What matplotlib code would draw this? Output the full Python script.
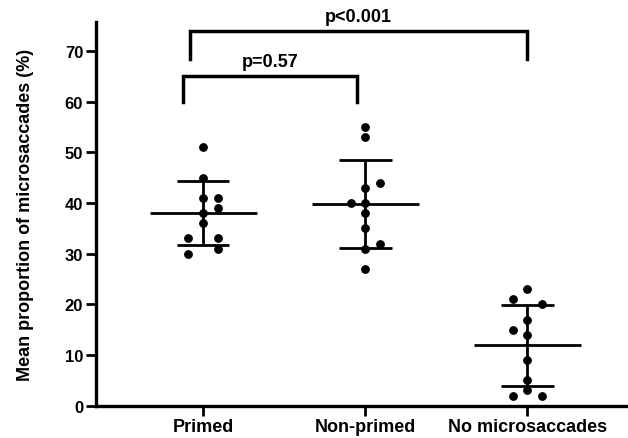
import numpy as np
import matplotlib
matplotlib.use("Agg")
import matplotlib.pyplot as plt

plt.rcParams['font.family'] = ['Liberation Sans', 'DejaVu Sans']

categories = ["Primed", "Non-primed", "No microsaccades"]
primed = [51, 45, 41, 41, 39, 38, 36, 33, 33, 31, 30]
non_primed = [55, 53, 44, 43, 40, 40, 38, 35, 32, 31, 27]
no_micro = [23, 21, 20, 17, 15, 14, 9, 5, 3, 2, 2]
# swarm column (-1 left, 0 centre, 1 right)
primed_side = [0, 0, 0, 1, 1, 0, 0, -1, 1, 1, -1]
non_primed_side = [0, 0, 1, 0, -1, 0, 0, 0, 1, 0, 0]
no_micro_side = [0, -1, 1, 0, -1, 0, 0, 0, 0, -1, 1]
yticks = [0, 10, 20, 30, 40, 50, 60, 70]
ylabel = "Mean proportion of microsaccades (%)"
comparisons = [(0, 2, "p<0.001"), (0, 1, "p=0.57")]

groups = [primed, non_primed, no_micro]
sides = [primed_side, non_primed_side, no_micro_side]

W, H = 628, 439
fig = plt.figure(figsize=(W / 100, H / 100), dpi=100)
ax = fig.add_axes([95.7 / W, 1 - 406.7 / H, 1 - 95.7 / W + 0.01, (406.7 - 23) / H])

STEP = 0.09
for i, (vals, sd) in enumerate(zip(groups, sides)):
    v = np.array(vals, dtype=float)
    m = v.mean()
    s = v.std(ddof=1)
    ax.vlines(i, m - s, m + s, color='black', lw=2.0, zorder=2)
    ax.hlines([m - s, m + s], i - 0.163, i + 0.163, color='black', lw=2.0, zorder=2)
    ax.hlines(m, i - 0.33, i + 0.33, color='black', lw=2.0, zorder=2)
    x = i + STEP * np.array(sd)
    ax.plot(x, v, 'o', color='black', ms=5.3, mec='black', zorder=3, clip_on=False)

ax.set_xlim(-0.662, 2.66)
ax.set_ylim(0, 75.7)
ax.set_yticks(yticks)
ax.set_xticks(range(len(categories)))
for sp in ['top', 'right']:
    ax.spines[sp].set_visible(False)
for sp in ['left', 'bottom']:
    ax.spines[sp].set_linewidth(2.4)
ax.tick_params(axis='both', width=2.0, length=7, pad=2)
ax.set_xticklabels(categories, fontsize=13, fontweight='bold')
ax.set_yticklabels([str(t) for t in yticks], fontsize=12, fontweight='bold')
ax.set_ylabel(ylabel, fontsize=13, fontweight='bold', labelpad=22)

# significance brackets
bracket_specs = {
    "p<0.001": (-0.08, 2.0, 74.0, 68.4),
    "p=0.57": (-0.125, 0.95, 65.1, 59.9),
}
for a, b, txt in comparisons:
    x0, x1, top, bot = bracket_specs[txt]
    ax.plot([x0, x0, x1, x1], [bot, top, top, bot], color='black', lw=2.5,
            clip_on=False, solid_joinstyle='miter', zorder=4)
    ax.text((x0 + x1) / 2, top + 1.2, txt, ha='center', va='bottom',
            fontsize=13, fontweight='bold', clip_on=False)

fig.savefig("out.png", dpi=100)
